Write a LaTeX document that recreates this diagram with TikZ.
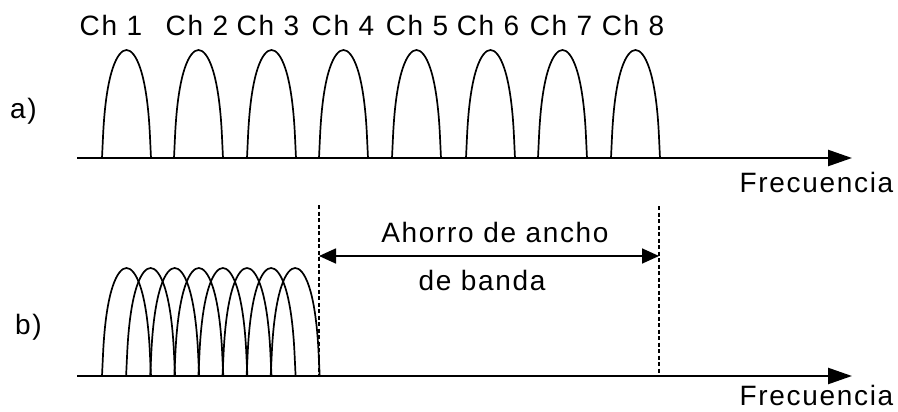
\documentclass[tikz,border=0pt]{standalone}
\usepackage{fontspec}
\setmainfont{Liberation Sans}[LetterSpace=6]
\usetikzlibrary{arrows.meta}
\begin{document}
\begin{tikzpicture}[x=1pt,y=-1pt,
  lbl/.style={inner sep=0pt,anchor=base,font=\fontsize{28}{30}\selectfont},
  pulseline/.style={line width=1.7pt,line join=round},
  axisline/.style={line width=2.4pt,-{Triangle[length=24pt,width=16pt]}},
  guide/.style={line width=1.3pt,dash pattern=on 4pt off 2.5pt},
  span/.style={line width=1.7pt,{Triangle[length=17pt,width=15pt]}-{Triangle[length=17pt,width=15pt]}},
  pulse/.pic={\draw[pulseline] (0,0) -- (1,-21) .. controls (4,-88) and (16,-108) .. (24.5,-108) .. controls (33,-108) and (45,-88) .. (48,-21) -- (49,0);}
]
\useasboundingbox (0,0) rectangle (898,412);
% a) spectrum
\foreach \s [count=\i] in {102,174,247,319,392,466,538,611}
  \pic (pa\i) at (\s,158) {pulse};
\foreach \c [count=\i] in {111,197,268,343,417,488,561,633}
  \node[lbl] (ch\i) at (\c,36) {Ch \i};
\coordinate (a0) at (77,158);
\coordinate (a1) at (852,158);
\draw[axisline] (a0) -- (a1);
\node[lbl] (fa) at (816.5,193) {Frecuencia};
\node[lbl] (la) at (23.5,119) {a)};
% b) spectrum
\foreach \i in {0,...,7}
  \pic (pb\i) at ({102+24.1*\i},376) {pulse};
\coordinate (b0) at (77,376);
\coordinate (b1) at (852,376);
\draw[axisline] (b0) -- (b1);
\node[lbl] (fb) at (816.5,405.5) {Frecuencia};
\node[lbl] (lb) at (28.5,334) {b)};
% saving
\coordinate (d1t) at (319,205);
\coordinate (d1b) at (319,376);
\coordinate (d2t) at (659,206);
\coordinate (d2b) at (659,376);
\draw[guide] (d1t) -- (d1b);
\draw[guide] (d2t) -- (d2b);
\coordinate (s1) at (319,256);
\coordinate (s2) at (659,256);
\draw[span] (s1) -- (s2);
\node[lbl] (t1) at (495,242) {Ahorro de ancho};
\node[lbl] (t2) at (482,290) {de banda};
\end{tikzpicture}
\end{document}
